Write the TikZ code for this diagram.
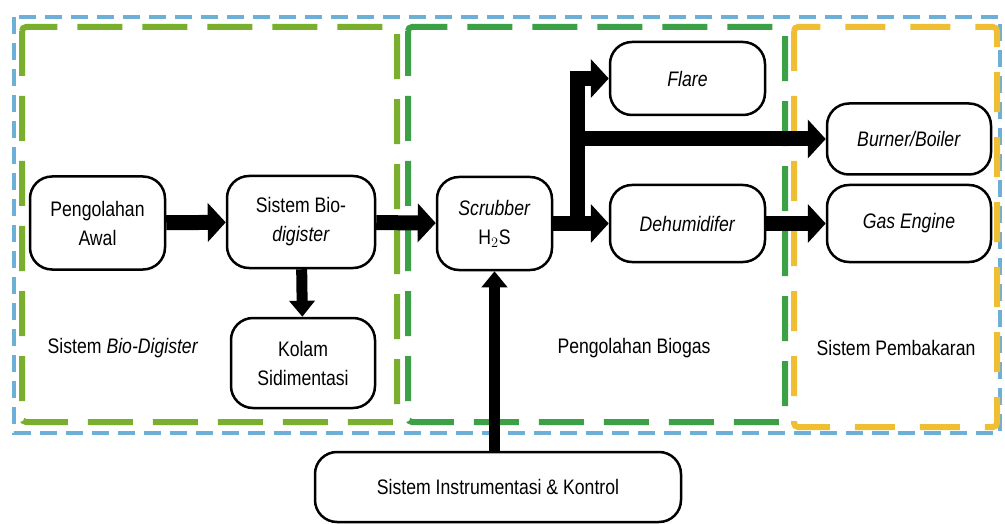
\documentclass[tikz,border=0pt]{standalone}
\usepackage{fontspec}
\setmainfont{Liberation Sans}[FakeStretch=0.84]
\usetikzlibrary{arrows.meta}
\definecolor{skyblue}{RGB}{110,175,215}
\definecolor{leafgreen}{RGB}{120,175,45}
\definecolor{darkgreen}{RGB}{60,160,70}
\definecolor{sunorange}{RGB}{240,190,50}

\begin{document}
\begin{tikzpicture}[x=1pt, y=-1pt,
    box/.style={draw, line width=2.5pt, rounded corners=22pt, align=center,
        font=\fontsize{21}{29}\selectfont, inner sep=0pt},
    zone/.style={line width=6pt, dash pattern=on 45pt off 20pt, rounded corners=4pt},
    flow/.style={line width=15pt, -{Triangle[width=38pt,length=18pt]}},
    thinflow/.style={line width=11pt, -{Triangle[width=25pt,length=16pt]}},
    label/.style={font=\fontsize{21}{29}\selectfont}]
    \useasboundingbox (0,0) rectangle (1005,524);
    % kotak-kotak sistem
    \draw[skyblue, line width=3.5pt, dash pattern=on 17pt off 9pt] (14,17) rectangle (1000,433);
    \draw[zone, leafgreen] (22,27) rectangle (397,422);
    \draw[zone, darkgreen] (408,27) rectangle (785,422);
    \draw[zone, sunorange, dash pattern=on 40pt off 25pt] (794,27) rectangle (997,427);
    \node[label] (lbdig) at (123,348) {Sistem \textit{Bio-Digister}};
    \node[label] (lbbio) at (634,348) {Pengolahan Biogas};
    \node[label] (lbbak) at (896,348) {Sistem Pembakaran};
    % proses
    \node[box, minimum width=135pt, minimum height=93pt] (awal) at (97.5,223) {Pengolahan\\Awal};
    \node[box, minimum width=148pt, minimum height=92pt] (digister) at (301,222) {Sistem Bio-\\\textit{digister}};
    \node[box, minimum width=144pt, minimum height=90pt] (kolam) at (303,363) {Kolam\\Sidimentasi};
    \node[box, minimum width=115pt, minimum height=93pt] (scrubber) at (494.5,223.5) {\textit{Scrubber}\\H$_2$S};
    \node[box, minimum width=155pt, minimum height=73pt] (flare) at (687.5,78.5) {\textit{Flare}};
    \node[box, minimum width=155pt, minimum height=77pt] (dehum) at (687.5,223.5) {\textit{Dehumidifer}};
    \node[box, minimum width=164pt, minimum height=71pt] (burner) at (909,139) {\textit{Burner/Boiler}};
    \node[box, minimum width=164pt, minimum height=77pt] (engine) at (909,223.5) {\textit{Gas Engine}};
    \node[box, minimum width=366pt, minimum height=70pt] (kontrol) at (498,487) {Sistem Instrumentasi \& Kontrol};
    % aliran
    \coordinate (fork) at (577,223.5);
    \draw[flow] (awal) -- (digister);
    \draw[thinflow] (digister) -- (kolam);
    \draw[flow] (digister) -- (scrubber);
    \draw[flow] (scrubber) -- (dehum);
    \draw[flow] (fork) |- (flare.west);
    \draw[flow] (fork |- burner.west) -- (burner.west);
    \draw[flow] (dehum) -- (engine);
    \draw[thinflow] (kontrol.north -| scrubber.south) -- (scrubber.south);
\end{tikzpicture}
\end{document}
